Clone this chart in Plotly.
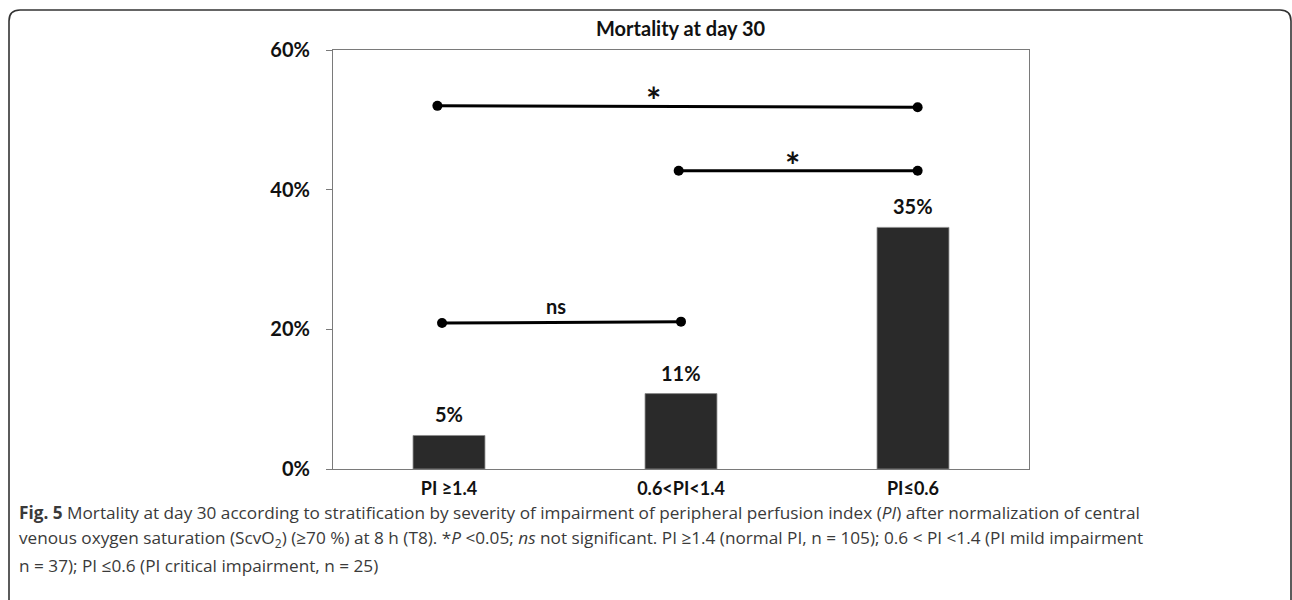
import plotly.graph_objects as go

# ---- data ----
categories = ["PI ≥1.4", "0.6<PI<1.4", "PI≤0.6"]
mortality = [4.8, 10.8, 34.6]          # % at day 30
bar_labels = ["5%", "11%", "35%"]
y_ticks = [0, 20, 40, 60]
y_tick_labels = ["0%", "20%", "40%", "60%"]

# significance brackets: x in category index units, y in %
bracket_top_x = [-0.05, 2.02]
bracket_top_y = [52.0, 51.8]
bracket_mid_x = [0.99, 2.02]
bracket_mid_y = [42.7, 42.7]
bracket_ns_x = [-0.03, 1.0]
bracket_ns_y = [20.9, 21.1]
sig_labels = ["*", "*", "ns"]
sig_x = [0.88, 1.48, 0.46]
sig_y = [53.7, 44.4, 23.4]

title_text = "Mortality at day 30"
caption_lines = [
    "<b>Fig. 5</b> Mortality at day 30 according to stratification by severity of impairment of peripheral perfusion index (<i>PI</i>) after normalization of central",
    "venous oxygen saturation (ScvO<sub>2</sub>) (≥70 %) at 8 h (T8). *<i>P</i> &lt;0.05; <i>ns</i> not significant. PI ≥1.4 (normal PI, n = 105); 0.6 &lt; PI &lt;1.4 (PI mild impairment",
    "n = 37); PI ≤0.6 (PI critical impairment, n = 25)",
]

# ---- layout geometry ----
W, H = 1292, 600
ML, MR, MT, MB = 333, 263, 50, 131
PW, PH = W - ML - MR, H - MT - MB

def px(xp):
    return (xp - ML) / PW

def py(yp):
    return (H - MB - yp) / PH

chart_font = "Lato, 'Open Sans', sans-serif"
cap_font = "'Open Sans', 'Noto Sans', sans-serif"

fig = go.Figure()
fig.add_trace(go.Bar(
    x=list(range(len(categories))), y=mortality, width=0.31,
    marker=dict(color="#2a2a2a", line=dict(color="#8a8a8a", width=0.8)),
    showlegend=False, hoverinfo="skip",
))

for bx, by in [(bracket_top_x, bracket_top_y), (bracket_mid_x, bracket_mid_y), (bracket_ns_x, bracket_ns_y)]:
    fig.add_trace(go.Scatter(
        x=bx, y=by, mode="lines+markers",
        line=dict(color="#000000", width=3),
        marker=dict(color="#000000", size=10),
        showlegend=False, hoverinfo="skip", cliponaxis=False,
    ))

annotations = []
for i, lab in enumerate(bar_labels):
    annotations.append(dict(
        x=i, y=mortality[i], text="<b>" + lab + "</b>", showarrow=False,
        yanchor="bottom", yshift=7, font=dict(family=chart_font, size=20, color="#111111"),
    ))
for sx, sy, sl in zip(sig_x, sig_y, sig_labels):
    annotations.append(dict(
        x=sx, y=sy, text="<b>" + sl + "</b>", showarrow=False, yanchor="middle",
        font=dict(family=chart_font, size=36 if sl == "*" else 20, color="#111111"),
        yshift=-6 if sl == "*" else 0,
    ))
annotations.append(dict(
    x=0.5, y=py(28), xref="paper", yref="paper", text="<b>" + title_text + "</b>",
    xanchor="center", yanchor="middle",
    showarrow=False, font=dict(family=chart_font, size=20, color="#111111"),
))
for k, line in enumerate(caption_lines):
    annotations.append(dict(
        x=px(18), y=py(512 + 26.5 * k), xref="paper", yref="paper", xanchor="left",
        yanchor="middle", align="left", text=line, showarrow=False, borderpad=0,
        font=dict(family=cap_font, size=17.2, color="#3a3a3a"),
    ))

# rounded outer frame
x0, x1 = px(9), px(1291)
y0, y1 = py(606), py(10)
rx, ry = 11 / PW, 11 / PH
path = (f"M {x0},{y0} L {x0},{y1 - ry} Q {x0},{y1} {x0 + rx},{y1} "
        f"L {x1 - rx},{y1} Q {x1},{y1} {x1},{y1 - ry} L {x1},{y0}")

fig.update_layout(
    width=W, height=H,
    margin=dict(l=ML, r=MR, t=MT, b=MB, autoexpand=False),
    paper_bgcolor="white", plot_bgcolor="white",
    annotations=annotations,
    shapes=[dict(type="path", path=path, xref="paper", yref="paper",
                 line=dict(color="#333333", width=1.6))],
    xaxis=dict(
        range=[-0.5, 2.5], tickvals=list(range(len(categories))),
        ticktext=["<b>" + c + "</b>" for c in categories],
        showgrid=False, zeroline=False, showline=True, mirror=True,
        linecolor="#7a7a7a", linewidth=1.2, ticks="",
        tickfont=dict(family=chart_font, size=18, color="#111111"),
        ticklabelstandoff=3,
    ),
    yaxis=dict(
        range=[0, 60], tickvals=y_ticks,
        ticktext=["<b>" + t + "</b>" for t in y_tick_labels],
        showgrid=False, zeroline=False, showline=True, mirror=True,
        linecolor="#7a7a7a", linewidth=1.2, ticks="outside", ticklen=6,
        tickcolor="#7a7a7a", tickfont=dict(family=chart_font, size=20, color="#111111"),
        ticklabelstandoff=12,
    ),
)

fig.write_html("out.html", config={"displayModeBar": False},
               post_script="document.body.style.margin='0';")
